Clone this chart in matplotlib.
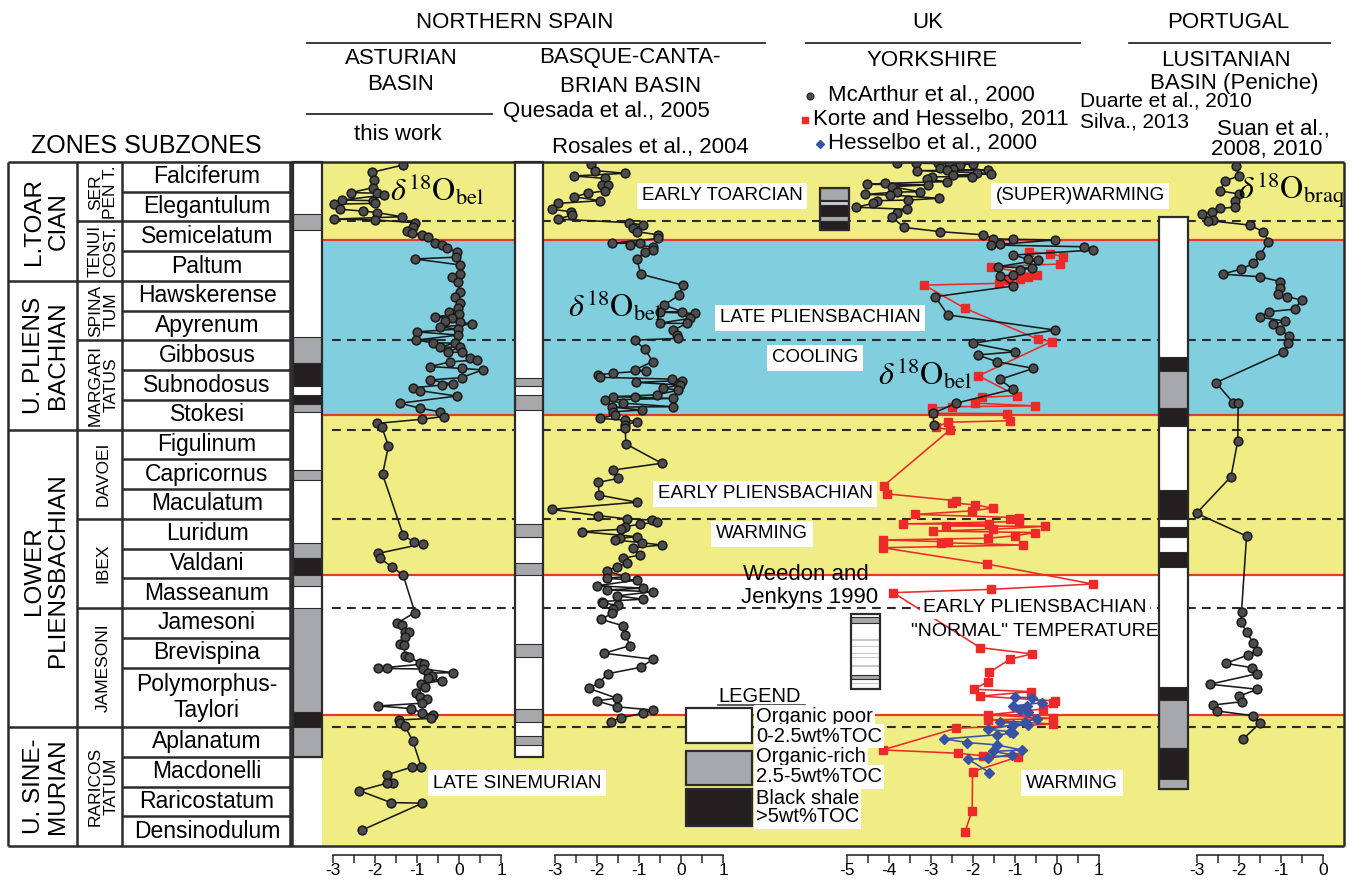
import matplotlib
matplotlib.use("Agg")
import matplotlib.pyplot as plt
from matplotlib.patches import Rectangle
import numpy as np

# ---------------- data ----------------
# stratigraphic level is measured in subzone rows from the top of the Falciferum subzone
subzones = ['Falciferum', 'Elegantulum', 'Semicelatum', 'Paltum', 'Hawskerense', 'Apyrenum',
            'Gibbosus', 'Subnodosus', 'Stokesi', 'Figulinum', 'Capricornus', 'Maculatum',
            'Luridum', 'Valdani', 'Masseanum', 'Jamesoni', 'Brevispina', 'Polymorphus-\nTaylori',
            'Aplanatum', 'Macdonelli', 'Raricostatum', 'Densinodulum']
subzone_rows = [1] * 17 + [2] + [1] * 4

zones = ['SER\nPEN T.', 'TENUI\nCOST.', 'SPINA\nTUM', 'MARGARI\nTATUS', 'DAVOEI', 'IBEX',
         'JAMESONI', 'RARICOS\nTATUM']
zone_bounds = [0, 2, 4, 6, 9, 12, 15, 19, 23]

stages = ['L.TOAR\nCIAN', 'U. PLIENS\nBACHIAN', 'LOWER\nPLIENSBACHIAN', 'U. SINE-\nMURIAN']
stage_bounds = [0, 4, 9, 19, 23]

band_edges = [0, 2.62, 8.52, 13.89, 18.59, 23]
band_kind = ['warm', 'cool', 'warm', 'normal', 'warm']
red_levels = [2.62, 8.52, 13.89, 18.59]
dashed_levels = [2, 6, 9, 12, 15, 19]

# Asturian Basin (this work)
ast_level = [0.10, 0.35, 0.61, 0.86, 1.03, 1.05, 1.11, 1.28, 1.30, 1.39, 1.42, 1.59, 1.65, 1.70,
             1.84, 1.92, 1.95, 2.04, 2.20, 2.31, 2.40, 2.45, 2.53, 2.71, 2.79, 2.90, 3.02, 3.20,
             3.26, 3.46, 3.77, 3.86, 4.02, 4.36, 4.53, 4.75, 4.91, 5.04, 5.11, 5.20, 5.25, 5.35,
             5.38, 5.45, 5.55, 5.62, 5.71, 5.82, 5.99, 6.08, 6.09, 6.22, 6.23, 6.39, 6.40, 6.59,
             6.66, 6.72, 6.88, 6.94, 6.99, 7.25, 7.33, 7.47, 7.50, 7.59, 7.69, 7.87, 8.11, 8.28,
             8.40, 8.56, 8.65, 8.79, 8.90, 9.55, 10.50, 12.54, 12.79, 12.84, 13.16, 13.33, 13.61,
             13.89, 15.15, 15.51, 15.57, 15.79, 15.80, 15.96, 16.22, 16.24, 16.61, 16.63, 16.86,
             16.88, 17.02, 17.03, 17.05, 17.17, 17.19, 17.28, 17.36, 17.44, 17.55, 17.64, 17.85,
             18.00, 18.07, 18.20, 18.29, 18.38, 18.52, 18.59, 18.71, 18.76, 18.87, 18.96, 19.47,
             20.33, 20.34, 20.61, 20.87, 20.89, 21.14, 21.54, 21.56, 22.46]
ast_d18o = [-1.33, -2.08, -2.02, -2.04, -2.57, -1.95, -1.78, -2.79, -2.04, -2.00, -2.97, -2.83,
            -2.28, -1.96, -1.36, -2.97, -2.00, -1.05, -1.09, -1.25, -1.13, -0.89, -0.73, -0.57,
            -0.41, -0.29, -0.05, -0.08, -1.05, 0.02, 0.02, -0.17, -0.02, 0.02, -0.10, 0.02, -0.02,
            -0.24, 0.00, -0.57, -0.17, -0.33, 0.02, 0.30, -0.45, -0.02, -1.01, -0.02, -1.02, -0.62,
            -0.10, -0.45, 0.02, -0.26, 0.07, 0.26, 0.42, -0.21, -0.69, 0.06, 0.56, 0.06, -0.69,
            -0.14, -0.41, -1.09, -0.93, -0.05, -1.40, -0.93, -0.45, -0.36, -0.89, -1.95, -1.84,
            -1.68, -1.82, -1.33, -1.07, -0.86, -1.92, -1.88, -1.60, -1.33, -1.05, -1.48, -1.36,
            -1.29, -1.18, -1.29, -1.40, -1.31, -1.29, -1.18, -0.93, -0.83, -1.92, -1.72, -0.86,
            -0.14, -0.73, -0.65, -0.73, -0.41, -0.90, -0.81, -1.02, -0.93, -0.77, -0.89, -1.92,
            -1.14, -0.89, -0.63, -0.67, -1.42, -1.40, -1.29, -1.10, -0.90, -1.11, -1.72, -1.58,
            -1.72, -2.37, -1.62, -0.87, -2.30]

# Basque-Cantabrian Basin
bas_level = [0.07, 0.29, 0.38, 0.47, 0.55, 0.77, 0.79, 0.97, 1.05, 1.17, 1.30, 1.39, 1.59, 1.67,
             1.78, 1.92, 2.04, 2.12, 2.23, 2.34, 2.45, 2.57, 2.73, 2.74, 2.79, 2.85, 2.96, 3.02,
             3.26, 3.77, 4.14, 4.47, 4.81, 5.03, 5.05, 5.09, 5.26, 5.42, 5.43, 5.65, 5.82, 5.93,
             5.99, 6.30, 6.71, 6.99, 7.02, 7.10, 7.16, 7.24, 7.30, 7.35, 7.41, 7.50, 7.61, 7.67,
             7.83, 7.89, 7.91, 7.95, 8.00, 8.11, 8.23, 8.24, 8.34, 8.40, 8.51, 8.62, 8.68, 8.73,
             8.84, 8.95, 9.48, 10.13, 10.36, 10.64, 10.77, 11.20, 11.44, 11.68, 11.89, 12.00,
             12.04, 12.11, 12.18, 12.26, 12.35, 12.43, 12.60, 12.65, 12.71, 12.80, 12.88, 12.97,
             13.21, 13.33, 13.49, 13.61, 13.75, 13.94, 14.00, 14.06, 14.25, 14.33, 14.39, 14.45,
             14.59, 14.70, 14.78, 14.84, 14.90, 15.04, 15.18, 15.38, 15.59, 15.90, 16.26, 16.52,
             16.72, 16.99, 17.21, 17.51, 17.70, 18.03, 18.12, 18.32, 18.43, 18.54, 18.69, 18.82]
bas_d18o = [-2.14, -2.05, -1.33, -2.54, -1.81, -1.89, -1.73, -1.81, -2.22, -2.54, -1.93, -2.92,
            -3.08, -2.62, -2.60, -2.92, -1.25, -0.90, -1.14, -1.05, -0.55, -0.54, -1.65, -0.98,
            -1.21, -0.66, -0.66, -0.86, -1.05, -0.96, 0.04, -0.04, -0.40, 0.02, -0.50, 0.33, 0.21,
            -0.50, 0.14, -0.18, -0.10, -0.06, -1.10, -0.86, -0.67, -1.10, -0.83, -1.61, -1.97,
            -1.93, -0.22, 0.02, -1.07, -0.02, -0.44, -0.06, -0.58, -1.61, -1.10, -0.18, -1.81,
            -1.37, -0.18, -1.65, -0.94, -1.61, -1.57, -1.93, -1.33, -1.05, -1.33, -1.33, -1.31,
            -0.46, -1.63, -1.49, -1.97, -1.95, -1.05, -3.08, -1.98, -1.29, -0.70, -0.58, -0.98,
            -1.33, -1.43, -2.36, -1.05, -1.45, -1.57, -0.94, -0.46, -1.14, -0.98, -1.37, -1.29,
            -1.53, -1.77, -1.33, -1.77, -1.05, -2.01, -0.90, -1.77, -0.67, -1.53, -0.90, -1.89,
            -1.85, -1.49, -1.61, -1.65, -1.90, -1.39, -1.33, -1.21, -1.83, -0.66, -0.96, -1.75,
            -1.95, -2.19, -1.53, -2.01, -1.52, -0.66, -0.91, -1.44, -1.67]

# Yorkshire: McArthur et al., 2000
mca_level = [0.02, 0.03, 0.04, 0.05, 0.06, 0.10, 0.21, 0.22, 0.27, 0.28, 0.29, 0.36, 0.40, 0.44,
             0.49, 0.50, 0.58, 0.66, 0.72, 0.75, 0.77, 0.83, 1.00, 1.01, 1.09, 1.11, 1.22, 1.28,
             1.30, 1.39, 1.52, 1.59, 1.72, 1.84, 2.20, 2.34, 2.45, 2.58, 2.60, 2.62, 2.77, 2.79,
             2.85, 2.96, 3.13, 3.27, 3.30, 3.52, 3.57, 3.63, 3.80, 3.83, 4.17, 4.53, 5.14, 5.65,
             6.10, 6.38, 6.49, 6.71, 6.94, 7.31, 7.64, 8.11, 8.45, 8.84]
mca_d18o = [-3.82, -2.56, -3.36, -2.83, -2.01, -2.31, -2.79, -2.47, -2.63, -1.64, -3.34, -1.91,
            -1.57, -2.48, -2.03, -2.98, -3.10, -2.63, -4.10, -4.52, -3.06, -3.94, -3.26, -3.82,
            -4.57, -3.98, -2.80, -3.54, -4.29, -4.37, -4.79, -3.58, -3.82, -3.94, -3.64, -2.79,
            -1.75, -1.52, -1.04, -0.05, -1.36, -1.58, 0.64, 0.86, -1.04, -0.68, -0.45, -1.40,
            -0.60, -0.88, -1.04, -1.36, -1.05, -2.90, -2.60, -0.05, -2.01, -1.00, -1.89, -1.44,
            -0.56, -1.36, -1.05, -2.40, -2.95, -2.93]

# Yorkshire: Korte and Hesselbo, 2011
kor_level = [3.02, 3.09, 3.18, 3.43, 3.52, 3.80, 3.88, 3.94, 3.97, 4.08, 4.14, 4.92, 5.96, 6.04,
             7.19, 7.86, 7.91, 8.11, 8.20, 8.23, 8.28, 8.45, 8.46, 8.70, 8.75, 8.92, 9.01, 10.88,
             11.16, 11.39, 11.46, 11.53, 11.64, 11.73, 11.85, 11.96, 12.01, 12.09, 12.17, 12.18,
             12.24, 12.25, 12.35, 12.41, 12.46, 12.57, 12.65, 12.71, 12.77, 12.80, 12.88, 12.97,
             13.52, 14.19, 14.37, 14.48, 16.33, 16.54, 16.72, 17.16, 17.47, 17.73, 17.81, 17.96,
             18.12, 18.20, 18.39, 18.59, 18.71, 18.76, 18.90, 19.04, 19.77, 19.88, 19.97, 20.00,
             20.50, 21.81, 22.52]
kor_d18o = [-0.66, -0.17, 0.15, 0.07, -1.58, -0.48, -0.68, -0.88, -1.17, -1.37, -3.16, -2.19,
            -0.45, -0.13, -1.87, -0.95, -1.79, -1.95, -0.52, -2.49, -2.97, -2.96, -1.20, -1.12,
            -2.59, -2.89, -2.55, -4.12, -4.04, -2.40, -2.51, -1.95, -1.52, -2.03, -3.38, -0.90,
            -1.12, -0.90, -3.66, -1.61, -2.65, -0.29, -1.52, -2.95, -0.52, -1.00, -1.64, -4.15,
            -2.59, -2.75, -0.80, -4.15, -1.66, 0.85, -1.58, -3.90, -1.83, -0.59, -1.12, -1.61,
            -1.64, -1.98, -0.62, -1.83, -0.05, -0.10, -0.33, -1.64, -0.09, -1.64, -0.10, -2.40,
            -4.15, -2.36, -1.75, -0.92, -2.01, -2.02, -2.19]

# Yorkshire: Hesselbo et al., 2000
hes_level = [18.00, 18.01, 18.18, 18.29, 18.30, 18.42, 18.48, 18.72, 18.82, 18.83, 18.93, 18.94,
             19.07, 19.16, 19.21, 19.26, 19.40, 19.52, 19.60, 19.77, 19.82, 19.93, 20.05, 20.08,
             20.53]
hes_d18o = [-1.00, -0.60, -0.36, -1.04, -0.72, -0.88, -0.68, -0.48, -0.76, -1.36, -0.68, -1.04,
            -1.64, -1.12, -1.04, -1.44, -2.68, -2.14, -1.44, -0.84, -1.52, -1.08, -1.64, -2.11,
            -1.61]

# Lusitanian Basin (Peniche)
por_level = [0.12, 0.47, 0.63, 0.97, 1.08, 1.30, 1.52, 1.56, 1.67, 1.76, 1.95, 1.97, 2.12, 2.34,
             2.68, 3.13, 3.41, 3.60, 3.77, 3.86, 4.02, 4.25, 4.44, 4.53, 4.64, 4.95, 5.03, 5.22,
             5.35, 5.46, 5.65, 5.84, 6.10, 6.40, 7.42, 8.09, 8.10, 9.38, 10.58, 11.81, 12.58,
             15.12, 15.48, 15.79, 16.16, 16.43, 16.58, 16.86, 17.00, 17.21, 17.56, 17.73, 17.96,
             18.15, 18.26, 18.46, 18.62, 18.87, 19.41]
por_d18o = [-2.08, -1.99, -2.33, -2.45, -1.99, -2.10, -2.10, -2.45, -2.65, -2.89, -2.61, -2.73,
            -1.75, -1.42, -1.30, -1.50, -1.66, -1.95, -2.39, -1.50, -1.02, -1.02, -1.08, -0.85,
            -0.51, -0.67, -1.28, -1.50, -0.90, -1.20, -1.02, -0.80, -0.83, -0.95, -2.55, -2.14,
            -2.02, -2.03, -2.19, -3.01, -1.82, -1.94, -1.96, -1.82, -1.67, -1.56, -1.79, -2.32,
            -1.70, -1.58, -2.69, -1.56, -2.00, -1.94, -2.63, -2.52, -1.66, -1.50, -1.91]

# lithology logs: (top level, base level, type)  g = organic-rich, k = black shale, l = pale
ast_litho = [(1.75, 2.29, 'g'), (5.88, 6.76, 'g'), (6.76, 7.53, 'k'), (7.83, 8.14, 'k'),
             (8.14, 8.41, 'g'), (10.36, 10.69, 'g'), (12.81, 13.32, 'g'), (13.32, 13.89, 'k'),
             (13.89, 14.26, 'g'), (15.0, 18.49, 'g'), (18.49, 19.0, 'k'), (19.0, 20.0, 'g')]
bas_litho = [(7.26, 7.53, 'g'), (7.83, 8.34, 'g'), (12.17, 12.61, 'g'), (13.48, 13.89, 'g'),
             (16.21, 16.64, 'g'), (18.39, 18.83, 'g'), (19.30, 19.60, 'g')]
por_litho = [(6.56, 7.03, 'k'), (7.03, 8.27, 'g'), (8.27, 8.88, 'k'), (11.03, 12.0, 'k'),
             (12.27, 12.61, 'k'), (13.11, 13.62, 'k'), (17.65, 18.09, 'k'), (18.09, 19.70, 'g'),
             (19.70, 20.75, 'k'), (20.75, 21.08, 'g')]
uk_litho = [(0.86, 1.28, 'g'), (1.28, 1.36, 'k'), (1.36, 1.45, 'l'), (1.45, 1.82, 'k'),
            (1.82, 1.97, 'g'), (1.97, 2.29, 'k')]
wj_litho = [(15.29, 15.49, 'g'), (16.05, 16.09, 'l'), (16.28, 16.32, 'l'), (16.50, 16.54, 'l'),
            (16.63, 16.67, 'l'), (16.93, 16.97, 'l'), (17.25, 17.39, 'g'), (17.51, 17.55, 'l')]

# ---------------- style ----------------
plt.rcParams['font.family'] = ['Liberation Sans', 'DejaVu Sans']
plt.rcParams['mathtext.fontset'] = 'stix'
plt.rcParams['axes.unicode_minus'] = False

YELLOW, BLUE, RED = '#f1ed85', '#81cfde', '#e8392f'
LINE = '#2b2b2b'
band_color = {'warm': YELLOW, 'cool': BLUE, 'normal': 'white'}
litho_color = {'g': '#a7a8ac', 'k': '#231f20', 'l': '#c8c8ca'}

W, H = 1359, 883
TOP, BOT, NROW = 162, 846, 23
ROW = (BOT - TOP) / NROW
PXU = 42.0  # pixels per permil

fig = plt.figure(figsize=(W / 100, H / 100), dpi=100)


def px_axes(x0, y0, x1, y1, z=1):
    ax = fig.add_axes([x0 / W, 1 - y1 / H, (x1 - x0) / W, (y1 - y0) / H])
    ax.set_zorder(z)
    return ax


def ry(level):
    return TOP + level * ROW


# coloured climate bands
band = px_axes(322, TOP, 1344, BOT, z=0)
band.set_xlim(322, 1344)
band.set_ylim(NROW, 0)
band.axis('off')
for a, b, k in zip(band_edges[:-1], band_edges[1:], band_kind):
    band.axhspan(a, b, color=band_color[k], lw=0)
for lv in red_levels:
    band.axhline(lv, color=RED, lw=1.6)
for lv in dashed_levels:
    band.hlines(lv, 332, 1344, colors=LINE, lw=1.5, linestyles=(0, (4.2, 3.0)))


def litho_column(x0, x1, top, base, blocks, z=2):
    ax = px_axes(x0, TOP, x1, BOT, z=z)
    ax.set_xlim(0, 1)
    ax.set_ylim(NROW, 0)
    ax.axis('off')
    ax.add_patch(Rectangle((0, top), 1, base - top, fc='white', ec='none'))
    for a, b, t in blocks:
        ec = 'none' if t == 'l' else LINE
        ax.add_patch(Rectangle((0, a), 1, b - a, fc=litho_color[t], ec=ec, lw=0.8))
    ax.add_patch(Rectangle((0, top), 1, base - top, fc='none', ec=LINE, lw=1.6, clip_on=False))
    return ax


litho_column(293, 322, 0, 20.0, ast_litho)
litho_column(515, 543, 0, 20.0, bas_litho)
litho_column(1159, 1188, 1.85, 21.08, por_litho)
litho_column(820, 849, 0.86, 2.29, uk_litho)
litho_column(851, 880, 15.21, 17.73, wj_litho)


def curve_axes(x0, x1, v_first, px_first, v_last):
    ax = px_axes(x0, TOP, x1, BOT, z=3)
    ax.set_xlim(v_first + (x0 - px_first) / PXU, v_first + (x1 - px_first) / PXU)
    ax.set_ylim(NROW, 0)
    ax.patch.set_visible(False)
    for s in ['top', 'left', 'right']:
        ax.spines[s].set_visible(False)
    ax.spines['bottom'].set_position(('outward', 9 * 0.72))
    ax.spines['bottom'].set_bounds(v_first, v_last)
    ax.spines['bottom'].set_linewidth(1.2)
    ax.spines['bottom'].set_color(LINE)
    ax.set_yticks([])
    ax.set_xticks(np.arange(v_first, v_last + 0.01, 1.0))
    ax.set_xticks(np.arange(v_first, v_last + 0.01, 0.5), minor=True)
    ax.set_xticklabels([f'{int(t)}' for t in np.arange(v_first, v_last + 0.01, 1.0)])
    ax.tick_params(which='both', direction='out', length=5.5, width=1.1, color=LINE,
                   labelsize=12.5, pad=0.5)
    return ax


dot = dict(marker='o', ms=6.3, mfc='#4d4d4d', mec='#1a1a1a', mew=1.1, color='#1a1a1a', lw=1.15)

ax_ast = curve_axes(322, 515, -3, 333, 1)
ax_ast.plot(ast_d18o, ast_level, **dot)

ax_bas = curve_axes(543, 800, -3, 555, 1)
ax_bas.plot(bas_d18o, bas_level, **dot)

ax_uk = curve_axes(800, 1155, -5, 847, 1)
ax_uk.plot(kor_d18o, kor_level, marker='s', ms=5.3, color='#ec2a2a', lw=1.15)
ax_uk.plot(mca_d18o, mca_level, **dot)
ax_uk.plot(hes_d18o, hes_level, marker='D', ms=5, color='#3953a4', lw=1.15)

ax_por = curve_axes(1188, 1344, -3, 1197, 0)
ax_por.plot(por_d18o, por_level, **dot)

# ---------------- overlay: table, frame and labels ----------------
ov = px_axes(0, 0, W, H, z=10)
ov.set_xlim(0, W)
ov.set_ylim(H, 0)
ov.axis('off')
ov.patch.set_visible(False)

lk = dict(color=LINE, lw=1.8, solid_capstyle='butt')
ov.plot([8, 1344], [TOP, TOP], **lk)
ov.plot([8, 1344], [BOT, BOT], **lk)
for x in [8, 77, 122, 290, 292]:
    ov.plot([x, x], [TOP, BOT], **lk)
ov.plot([1344, 1344], [TOP, BOT], **lk)

# subzones
r = 0
for name, n in zip(subzones, subzone_rows):
    ov.text(207, ry(r + n / 2), name, ha='center', va='center', fontsize=16.5,
            linespacing=1.15)
    r += n
    if r < NROW:
        ov.plot([122, 290], [ry(r), ry(r)], **lk)
for name, a, b in zip(zones, zone_bounds[:-1], zone_bounds[1:]):
    ov.text(103, ry((a + b) / 2), name, ha='center', va='center', rotation=90,
            fontsize=12.5, linespacing=1.05, multialignment='center')
    if b < NROW:
        ov.plot([77, 122], [ry(b), ry(b)], **lk)
for name, a, b in zip(stages, stage_bounds[:-1], stage_bounds[1:]):
    yc = ry((a + b) / 2) - (8 if b == 19 else 0)
    ov.text(46, yc, name, ha='center', va='center', rotation=90,
            fontsize=17.5, linespacing=1.15, multialignment='center')
    if b < NROW:
        ov.plot([8, 77], [ry(b), ry(b)], **lk)

ov.text(146, 146, 'ZONES SUBZONES', ha='center', va='center', fontsize=18)

# column headings
hk = dict(ha='center', va='center', fontsize=16)
ck = dict(va='center', fontsize=16)
ov.text(515, 22, 'NORTHERN SPAIN', **hk)
ov.plot([307, 765], [43, 43], color=LINE, lw=1.3)
ov.text(401, 58, 'ASTURIAN', **hk)
ov.text(401, 85, 'BASIN', **hk)
ov.text(630, 58, 'BASQUE-CANTA-', **hk)
ov.text(631, 87, 'BRIAN BASIN', **hk)
ov.plot([307, 492], [114, 114], color=LINE, lw=1.3)
ov.text(503, 112, 'Quesada et al., 2005', ha='left', **ck)
ov.text(398, 135, 'this work', ha='center', **ck)
ov.text(650, 148, 'Rosales et al., 2004', ha='center', **ck)

ov.text(928, 22, 'UK', **hk)
ov.plot([806, 1080], [43, 43], color=LINE, lw=1.3)
ov.text(932, 60, 'YORKSHIRE', **hk)
ov.plot([810], [96], marker='o', ms=5, mfc='#4d4d4d', mec='#1a1a1a', mew=0.8)
ov.text(828, 95, 'McArthur et al., 2000', ha='left', **ck)
ov.plot([805], [120], marker='s', ms=5, color='#ec2a2a')
ov.text(813, 119, 'Korte and Hesselbo, 2011', ha='left', **ck)
ov.plot([820], [144], marker='D', ms=4.5, color='#3953a4')
ov.text(828, 144, 'Hesselbo et al., 2000', ha='left', **ck)

ov.text(1228, 22, 'PORTUGAL', **hk)
ov.plot([1129, 1330], [43, 43], color=LINE, lw=1.3)
ov.text(1226, 60, 'LUSITANIAN', **hk)
ov.text(1234, 83, 'BASIN (Peniche)', **hk)
ov.text(1080, 101, 'Duarte et al., 2010', ha='left', va='center', fontsize=15)
ov.text(1080, 122, 'Silva., 2013', ha='left', va='center', fontsize=15)
ov.text(1330, 129, 'Suan et al.,', ha='right', **ck)
ov.text(1322, 149, '2008, 2010', ha='right', **ck)

# event labels
box = dict(boxstyle='square,pad=0.25', fc='white', ec='none')
ek = dict(ha='center', va='center', fontsize=13.5, bbox=box)
ov.text(722, 196, 'EARLY TOARCIAN', **ek)
ov.text(1080, 196, '(SUPER)WARMING', **ek)
ov.text(820, 318, 'LATE PLIENSBACHIAN', **ek)
ov.text(815, 358, 'COOLING', **ek)
ov.text(765, 494, 'EARLY PLIENSBACHIAN', **ek)
ov.text(762, 534, 'WARMING', **ek)
ov.text(517, 783, 'LATE SINEMURIAN', **ek)
ov.text(1072, 783, 'WARMING', **ek)
ov.text(1035, 608, 'EARLY PLIENSBACHIAN', ha='center', va='center', fontsize=14,
        bbox=dict(boxstyle='square,pad=0.15', fc='white', ec='none'))
ov.text(1035, 632, '"NORMAL" TEMPERATURE', ha='center', va='center', fontsize=14)
ov.text(806, 574, 'Weedon and', ha='center', va='center', fontsize=16)
ov.text(810, 597, 'Jenkyns 1990', ha='center', va='center', fontsize=16)

# isotope labels
ov.text(437, 190, r'$\delta^{18}\mathrm{O}_{\mathrm{bel}}$', ha='center', va='center', fontsize=23)
ov.text(615, 306, r'$\delta^{18}\mathrm{O}_{\mathrm{bel}}$', ha='center', va='center', fontsize=23)
ov.text(925, 374, r'$\delta^{18}\mathrm{O}_{\mathrm{bel}}$', ha='center', va='center', fontsize=23)
ov.text(1292, 190, r'$\delta^{18}\mathrm{O}_{\mathrm{braq}}$', ha='center', va='center',
        fontsize=23)

# legend of the lithology logs
ov.text(718, 696, 'LEGEND', ha='left', va='center', fontsize=14.5)
ov.plot([718, 805], [705, 705], color=LINE, lw=1.1)
for y0, h, t in [(708, 35, 'w'), (751, 34, 'g'), (789, 37, 'k')]:
    fc = 'white' if t == 'w' else litho_color[t]
    ov.add_patch(Rectangle((686, y0), 66, h, fc=fc, ec=LINE, lw=1.6))
lbox = dict(boxstyle='square,pad=0.1', fc='white', ec='none')
for y, s in [(717, 'Organic poor'), (736, '0-2.5wt%TOC'), (757, 'Organic-rich'),
             (777, '2.5-5wt%TOC'), (798, 'Black shale'), (817, '>5wt%TOC')]:
    ov.text(756, y, s, ha='left', va='center', fontsize=14.5, bbox=lbox)

fig.savefig('out.png', dpi=100)
